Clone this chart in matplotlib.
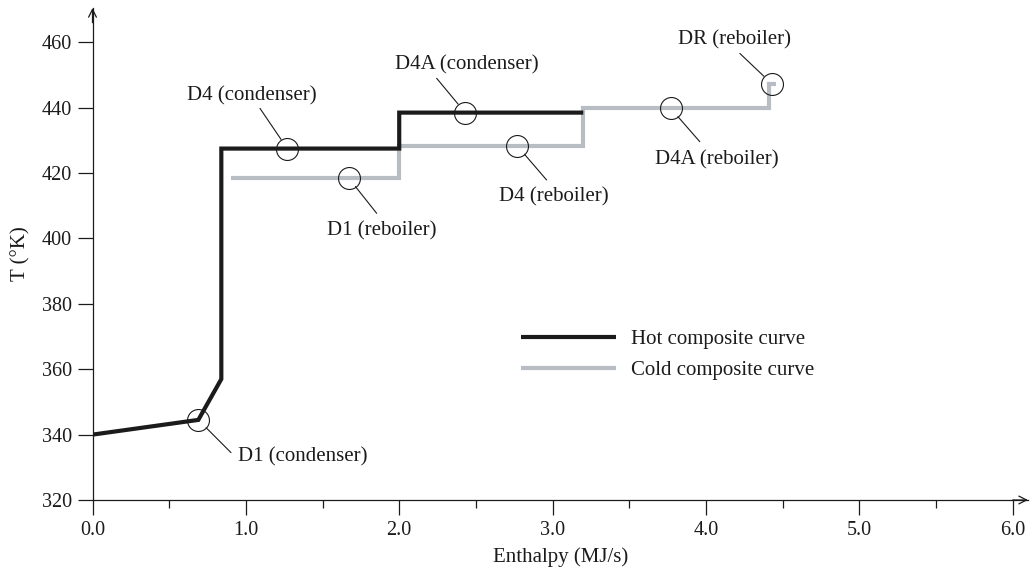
import matplotlib
matplotlib.use("Agg")
import matplotlib.pyplot as plt
from matplotlib.ticker import MultipleLocator, FormatStrFormatter

plt.rcParams["font.family"] = ["Liberation Serif", "DejaVu Serif"]

# Hot composite curve (enthalpy MJ/s, temperature K)
hot_h = [0.0, 0.69, 0.84, 0.84, 2.0, 2.0, 3.2]
hot_t = [340, 344.5, 357, 427.5, 427.5, 438.5, 438.5]

# Cold composite curve
cold_h = [0.9, 2.0, 2.0, 3.2, 3.2, 4.41, 4.41, 4.46]
cold_t = [418.5, 418.5, 428.3, 428.3, 439.8, 439.8, 447.3, 447.3]

# Labelled units: name, marker position on the curves
unit_names = ["D1 (condenser)", "D4 (condenser)", "D1 (reboiler)", "D4A (condenser)",
              "D4 (reboiler)", "D4A (reboiler)", "DR (reboiler)"]
unit_h = [0.69, 1.27, 1.67, 2.43, 2.77, 3.77, 4.43]
unit_t = [344.5, 427.5, 418.5, 438.5, 428.3, 439.8, 447.3]

# Annotation layout: leader end point, text anchor, horizontal alignment
leader_end = [(0.903, 334.5), (1.092, 439.8), (1.853, 407.7), (2.244, 449.0),
              (2.961, 417.9), (3.960, 429.6), (4.221, 456.6)]
text_pos = [(0.948, 333.2), (1.040, 443.7), (1.887, 402.3), (2.441, 453.1),
            (3.008, 412.7), (4.071, 424.0), (4.188, 460.7)]
text_ha = ["left", "center", "center", "center", "center", "center", "center"]

W, H = 1030, 572
fig = plt.figure(figsize=(W / 100, H / 100), dpi=100)
x0, x1, y0, y1 = 92.5, 1028, 500, 8
ax = fig.add_axes([x0 / W, 1 - y0 / H, (x1 - x0) / W, (y0 - y1) / H])
ax.set_xlim(0, 6.1)
ax.set_ylim(320, 470.5)

hot_color = "#1b1b1b"
cold_color = "#b8bdc3"
ax.plot(hot_h, hot_t, color=hot_color, lw=3.0, solid_joinstyle="miter",
        solid_capstyle="butt", label="Hot composite curve", zorder=3)
ax.plot(cold_h, cold_t, color=cold_color, lw=3.0, solid_joinstyle="miter",
        solid_capstyle="butt", label="Cold composite curve", zorder=2)

radius_pt = 7.9
for name, h, t, le, tp, ha in zip(unit_names, unit_h, unit_t, leader_end, text_pos, text_ha):
    ax.plot([h], [t], marker="o", ms=2 * radius_pt, mfc="none", mec="#1b1b1b",
            mew=0.8, zorder=4, clip_on=False)
    ax.annotate("", xy=(h, t), xytext=le,
                arrowprops=dict(arrowstyle="-", color="#1b1b1b", lw=0.8,
                                shrinkA=0, shrinkB=radius_pt))
    ax.text(tp[0], tp[1], name, ha=ha, va="center", fontsize=15, color="#1b1b1b")

# Axes styling
for side in ("top", "right"):
    ax.spines[side].set_visible(False)
for side in ("left", "bottom"):
    ax.spines[side].set_color("#1b1b1b")
    ax.spines[side].set_linewidth(0.9)

ax.set_xticks([0, 1, 2, 3, 4, 5, 6])
ax.set_xticks([0.5, 1.5, 2.5, 3.5, 4.5, 5.5], minor=True)
ax.xaxis.set_major_formatter(FormatStrFormatter("%.1f"))
ax.set_yticks([320, 340, 360, 380, 400, 420, 440, 460])
ax.tick_params(axis="both", which="major", length=11, width=0.9, color="#1b1b1b",
               labelsize=14.5, labelcolor="#1b1b1b", pad=4)
ax.tick_params(axis="x", which="minor", length=5.5, width=0.9, color="#1b1b1b")

ax.set_xlabel("Enthalpy (MJ/s)", fontsize=15, color="#1b1b1b", labelpad=5)
ax.set_ylabel("T (°K)", fontsize=15, color="#1b1b1b", labelpad=8)

# Axis arrowheads
ax.annotate("", xy=(6.1, 320), xytext=(6.0, 320), annotation_clip=False,
            arrowprops=dict(arrowstyle="->", color="#1b1b1b", lw=0.9,
                            shrinkA=0, shrinkB=0, mutation_scale=14))
ax.annotate("", xy=(0, 470.5), xytext=(0, 466), annotation_clip=False,
            arrowprops=dict(arrowstyle="->", color="#1b1b1b", lw=0.9,
                            shrinkA=0, shrinkB=0, mutation_scale=14))

leg = ax.legend(loc="center left", bbox_to_anchor=(521 / W, 1 - 355 / H),
                bbox_transform=fig.transFigure, frameon=False, fontsize=15,
                handlelength=4.55, handletextpad=0.75, labelspacing=0.55,
                borderpad=0, borderaxespad=0)
for text in leg.get_texts():
    text.set_color("#1b1b1b")

fig.savefig("out.png", dpi=100)
